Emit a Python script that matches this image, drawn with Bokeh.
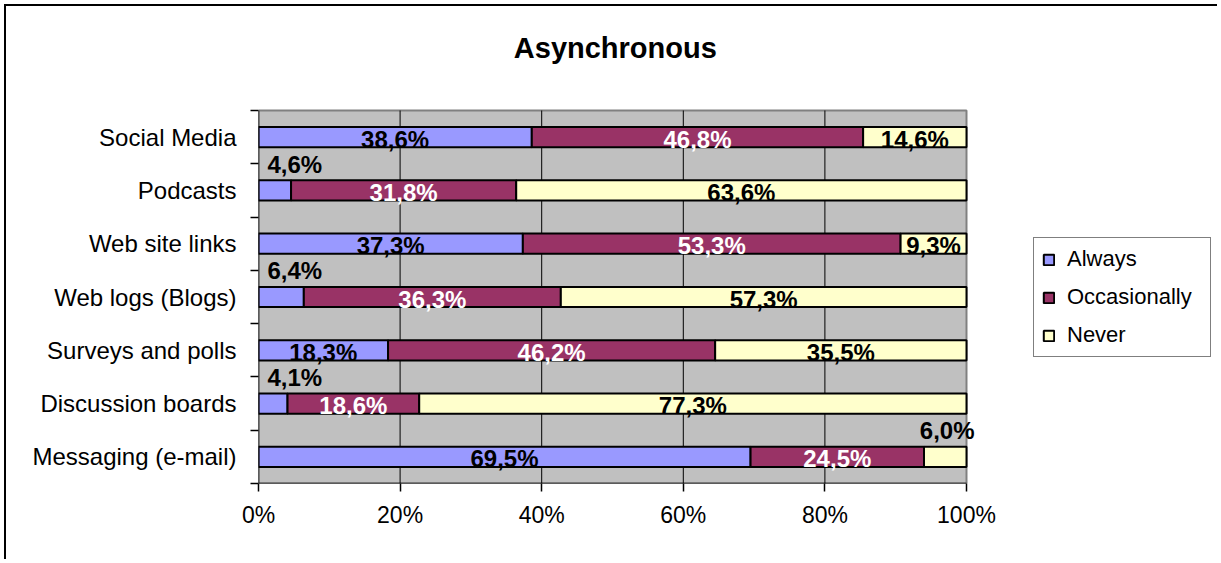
from bokeh.plotting import figure
from bokeh.models import ColumnDataSource, Range1d, FixedTicker, Legend, LegendItem
from bokeh.core.properties import value
from bokeh.embed import file_html
from bokeh.resources import INLINE

title = "Asynchronous"
categories = ["Social Media", "Podcasts", "Web site links", "Web logs (Blogs)",
              "Surveys and polls", "Discussion boards", "Messaging (e-mail)"]
series_names = ["Always", "Occasionally", "Never"]
always = [38.6, 4.6, 37.3, 6.4, 18.3, 4.1, 69.5]
occasionally = [46.8, 31.8, 53.3, 36.3, 46.2, 18.6, 24.5]
never = [14.6, 63.6, 9.3, 57.3, 35.5, 77.3, 6.0]
x_ticks = [0, 20, 40, 60, 80, 100]
x_tick_labels = ["0%", "20%", "40%", "60%", "80%", "100%"]

colors = ["#9999FF", "#993366", "#FFFFCC"]
label_colors = ["black", "white", "black"]
FONT = "Liberation Sans"

# layout (pixels)
W, H = 1213, 555
BORDER_L, BORDER_T, BORDER_B = 252, 4, 78
PLOT_W, PLOT_H = 708, 373          # size of the grey plot area
TITLE_ABOVE = 63                   # title centre above grey area

n = len(categories)
frame_w = W - BORDER_L
frame_h = H - BORDER_T - BORDER_B
x_max = x_ticks[-1]
x_end = x_max * frame_w / PLOT_W
y_end = n * frame_h / PLOT_H
px_y = PLOT_H / n

ypos = [n - i - 0.5 for i in range(n)]
series = [always, occasionally, never]
totals = [sum(s[i] for s in series) for i in range(n)]
pct = [[s[i] / totals[i] * 100 for i in range(n)] for s in series]

data = dict(y=ypos)
for name, vals in zip(series_names, pct):
    data[name] = vals
source = ColumnDataSource(data)

p = figure(width=W, height=H, x_range=Range1d(0, x_end), y_range=Range1d(0, y_end),
           output_backend="svg", toolbar_location=None,
           min_border_left=BORDER_L, min_border_right=0, min_border_top=BORDER_T,
           min_border_bottom=BORDER_B,
           background_fill_color="white", border_fill_color="white")
p.outline_line_color = None
p.title = None
p.margin = (4, 0, 0, 4)
p.styles = {"border-left": "2px solid black", "border-top": "2px solid black"}

# grey plot area
p.quad(left=[x_ticks[0]], right=[x_max], bottom=[0], top=[n],
       fill_color="#C0C0C0", line_color="#808080", line_width=2)
# vertical grid lines
inner = x_ticks[1:-1]
p.segment(x0=inner, x1=inner, y0=[0] * len(inner), y1=[n] * len(inner),
          line_color="black", line_width=1)

renderers = p.hbar_stack(series_names, y="y", height=0.38, color=colors, source=source,
                         line_color="black", line_width=2)

# axis lines
p.segment(x0=[x_ticks[0], x_ticks[0]], y0=[0, 0], x1=[x_max, x_ticks[0]], y1=[0, n],
          line_color="black", line_width=1.5)

# value labels
in_x, in_y, in_t, in_c = [], [], [], []
al_x, al_y, al_t = [], [], []
ar_x, ar_y, ar_t = [], [], []
for i in range(n):
    left = 0.0
    for j in range(len(series)):
        w = pct[j][i]
        right = left + w
        txt = f"{series[j][i]:.1f}".replace(".", ",") + "%"
        if w >= 8:
            in_x.append((left + right) / 2)
            in_y.append(ypos[i] - 2 / px_y)
            in_t.append(txt)
            in_c.append(label_colors[j])
        elif left < 1:
            al_x.append(left)
            al_y.append(ypos[i] + 0.49)
            al_t.append(txt)
        else:
            ar_x.append(right)
            ar_y.append(ypos[i] + 0.49)
            ar_t.append(txt)
        left = right

common = dict(text_font=value(FONT), text_font_style="bold", text_font_size="24px",
              text_baseline="middle")
p.text(x="x", y="y", text="t", text_color="c", text_align="center",
       source=ColumnDataSource(dict(x=in_x, y=in_y, t=in_t, c=in_c)), **common)
p.text(x="x", y="y", text="t", text_color="black", text_align="left", x_offset=9,
       source=ColumnDataSource(dict(x=al_x, y=al_y, t=al_t)), **common)
p.text(x="x", y="y", text="t", text_color="black", text_align="right", x_offset=8,
       source=ColumnDataSource(dict(x=ar_x, y=ar_y, t=ar_t)), **common)

# title
p.text(x=[x_max / 2 + 0.4], y=[n + TITLE_ABOVE / px_y], text=[title],
       text_font=value(FONT), text_font_style="bold", text_font_size="29px",
       text_align="center", text_baseline="middle", text_color="black")

# axes
xa = p.xaxis[0]
xa.ticker = FixedTicker(ticks=x_ticks)
xa.major_label_overrides = {t: l for t, l in zip(x_ticks, x_tick_labels)}
xa.major_tick_out = 8
xa.major_tick_in = 0
xa.minor_tick_line_color = None
xa.axis_line_color = None
xa.major_tick_line_color = "black"
xa.major_tick_line_width = 1.5
xa.major_label_text_font = FONT
xa.major_label_text_font_size = "23px"
xa.major_label_text_color = "black"
xa.major_label_standoff = 10

ya = p.yaxis[0]
ya.ticker = FixedTicker(ticks=ypos, minor_ticks=list(range(n + 1)))
ya.major_label_overrides = {y: c for y, c in zip(ypos, categories)}
ya.major_tick_out = 0
ya.major_tick_in = 0
ya.minor_tick_out = 8
ya.minor_tick_in = 0
ya.minor_tick_line_color = "black"
ya.minor_tick_line_width = 1.5
ya.axis_line_color = None
ya.major_label_text_font = FONT
ya.major_label_text_font_size = "24px"
ya.major_label_text_color = "black"
ya.major_label_standoff = 14

p.xgrid.visible = False
p.ygrid.visible = False

# legend
legend = Legend(items=[LegendItem(label=nm, renderers=[r]) for nm, r in zip(series_names, renderers)],
                location=(775, 126), label_text_font=FONT, label_text_font_size="22px",
                label_text_color="black", glyph_width=13, glyph_height=13, label_height=26,
                label_width=135, spacing=12, padding=8, label_standoff=12, margin=0,
                border_line_color="black", border_line_width=1, background_fill_color="white",
                background_fill_alpha=1)
p.add_layout(legend)

open("out.html", "w").write(file_html(p, INLINE))
